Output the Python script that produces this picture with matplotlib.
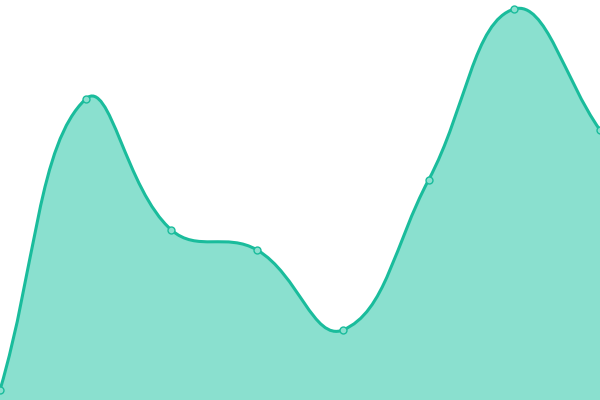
import numpy as np
import matplotlib.pyplot as plt
from matplotlib.path import Path
from matplotlib.patches import PathPatch

# data
days = [0, 1, 2, 3, 4, 5, 6, 7]
values = [10, 301, 170, 150, 70, 220, 391, 270]

line_color = '#1abc9c'
fill_color = '#8ae0cf'

W, H = 600, 400
fig = plt.figure(figsize=(6, 4), dpi=100)
ax = fig.add_axes([0, 0, 1, 1])
ax.set_xlim(0, 7)
ax.set_ylim(0, 400)
ax.axis('off')

# smooth bezier like echarts (done in pixel space)
sx = W / 7.0
sy = H / 400.0
pts = np.array([[d * sx, v * sy] for d, v in zip(days, values)])
smooth = 0.42
n = len(pts)
cp_in = np.zeros_like(pts)
cp_out = np.zeros_like(pts)
for i in range(n):
    p = pts[i]
    prev = pts[i - 1] if i > 0 else p
    nxt = pts[i + 1] if i < n - 1 else p
    v = (nxt - prev) * smooth
    d0 = np.hypot(*(p - prev))
    d1 = np.hypot(*(p - nxt))
    s = d0 + d1
    if s > 0:
        d0 /= s
        d1 /= s
    cp_in[i] = p - v * d0
    cp_out[i] = p + v * d1

verts = [pts[0]]
codes = [Path.MOVETO]
for i in range(n - 1):
    verts += [cp_out[i], cp_in[i + 1], pts[i + 1]]
    codes += [Path.CURVE4] * 3
verts = np.array(verts) / [sx, sy]

line_path = Path(verts, codes)
fill_verts = np.vstack([verts, [[days[-1], 0], [days[0], 0], verts[0]]])
fill_codes = codes + [Path.LINETO, Path.LINETO, Path.CLOSEPOLY]
ax.add_patch(PathPatch(Path(fill_verts, fill_codes), facecolor=fill_color,
                       edgecolor='none', zorder=1))
ax.add_patch(PathPatch(line_path, facecolor='none', edgecolor=line_color,
                       linewidth=2.2, zorder=2))
ax.plot(days, values, 'o', markersize=5, markerfacecolor=fill_color,
        markeredgecolor=line_color, markeredgewidth=1.0, zorder=3)

fig.savefig('out.png', dpi=100)
